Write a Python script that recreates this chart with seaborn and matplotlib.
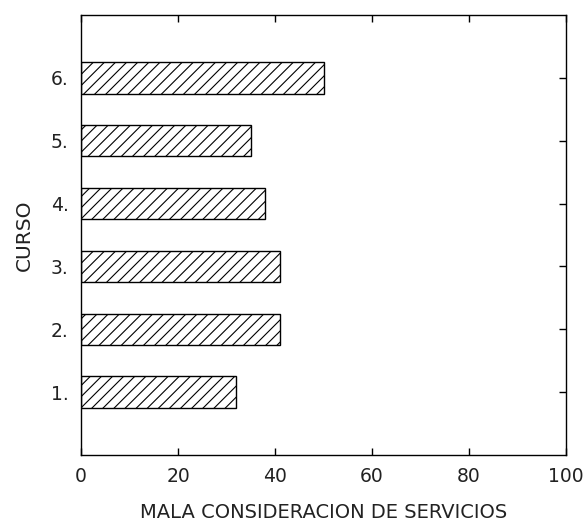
import matplotlib
matplotlib.use("Agg")
import matplotlib.pyplot as plt
import seaborn as sns
import pandas as pd

cursos = [1, 2, 3, 4, 5, 6]
curso_labels = ["1.", "2.", "3.", "4.", "5.", "6."]
valores = [32, 41, 41, 38, 35, 50]
x_ticks = [0, 20, 40, 60, 80, 100]

sns.set_theme(style="ticks")
plt.rcParams['font.family'] = ['DejaVu Sans']
plt.rcParams['hatch.linewidth'] = 0.8

df = pd.DataFrame({"curso": cursos, "valor": valores})

fig = plt.figure(figsize=(5.87, 5.24), dpi=100)
ax = fig.add_axes([81/587, 1-455/524, (566-81)/587, (455-15)/524])

sns.barplot(data=df, x="valor", y="curso", orient="h", native_scale=True,
            width=0.5, color="white", edgecolor="black", linewidth=1.0,
            ax=ax)
for p in ax.patches:
    p.set_hatch("///")

txt = "#222222"
ax.set_xlim(0, 100)
ax.set_ylim(0, 7)
ax.set_xticks(x_ticks)
ax.set_xticklabels([str(t) for t in x_ticks])
ax.set_yticks(cursos)
ax.set_yticklabels(curso_labels)
ax.tick_params(direction="in", length=5, width=1, top=True, right=True,
               labelsize=13.5, color="black", labelcolor=txt, pad=9)
for s in ax.spines.values():
    s.set_color("black")
    s.set_linewidth(1)
ax.set_xlabel("MALA CONSIDERACION DE SERVICIOS", fontsize=14, labelpad=12, color=txt)
ax.set_ylabel("CURSO", fontsize=14.5, labelpad=12, color=txt)

fig.savefig("out.png", dpi=100)
